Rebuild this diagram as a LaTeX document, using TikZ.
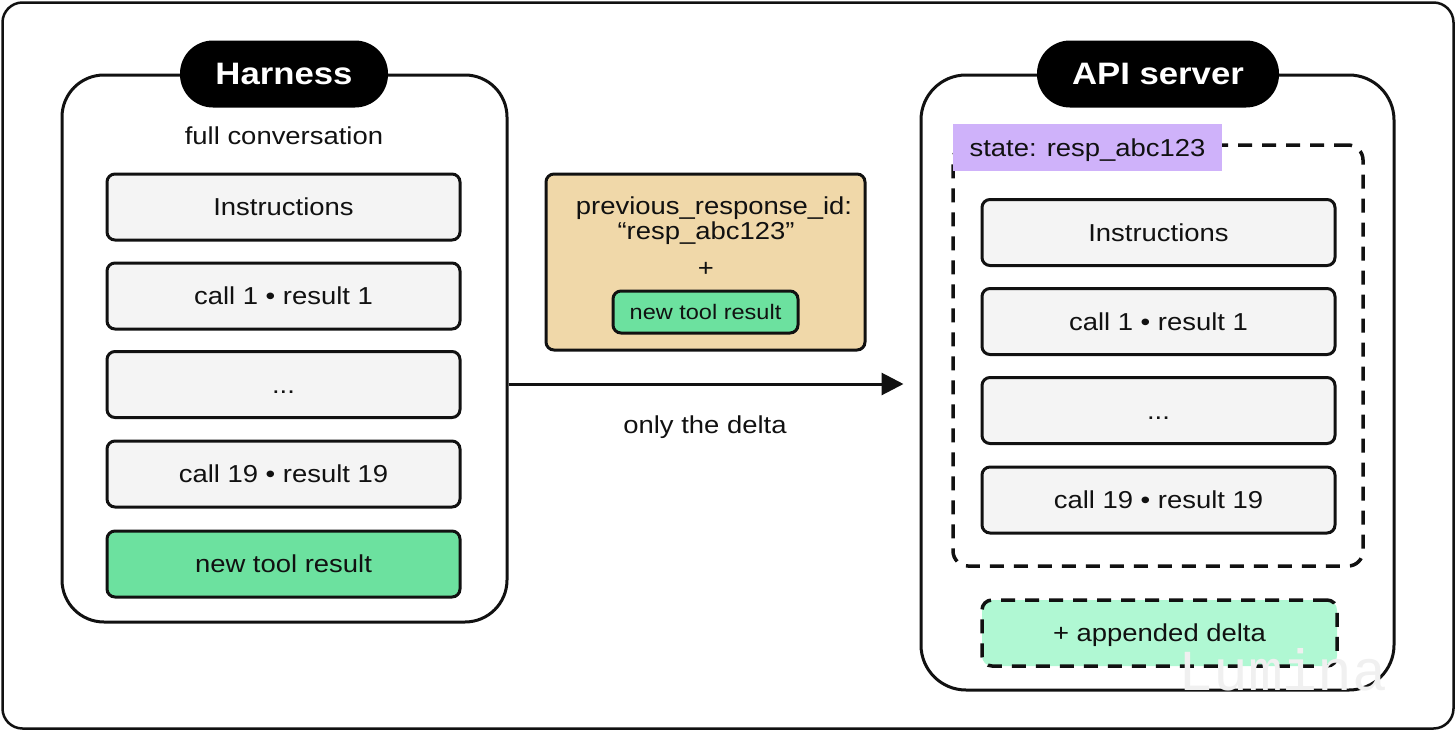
\documentclass[tikz,border=0pt]{standalone}
\usepackage{fontspec}
\setmainfont{Liberation Sans}[FakeStretch=1.12]
\newfontfamily\wmfont{Liberation Mono}
\usetikzlibrary{arrows.meta}
\definecolor{itemgray}{HTML}{F4F4F4}
\definecolor{newgreen}{HTML}{6CE19F}
\definecolor{deltayellow}{HTML}{F0D8A9}
\definecolor{statepurple}{HTML}{CFB2FA}
\definecolor{appgreen}{HTML}{B0F8D3}
\definecolor{ink}{HTML}{111111}
\begin{document}
\begin{tikzpicture}[x=1pt,y=-1pt,
  every node/.style={text=ink, inner sep=0pt},
  tb/.style={text height=17.5pt, text depth=0.5pt},
  frame/.style={draw=ink, line width=2.5pt, rounded corners=20pt},
  panel/.style={draw=ink, line width=3pt, rounded corners=42pt},
  pill/.style={fill=black, rounded corners=33pt, minimum height=67pt, text=white, font=\fontsize{31}{36}\selectfont\bfseries},
  item/.style={draw=ink, line width=3pt, rounded corners=8pt, fill=itemgray, minimum width=353pt, minimum height=66pt, font=\fontsize{24.5}{28}\selectfont, tb},
  greenitem/.style={item, fill=newgreen},
  lbl/.style={font=\fontsize{24.5}{28}\selectfont, tb},
  dashbox/.style={draw=ink, line width=3.5pt, dash pattern=on 14pt off 10pt, rounded corners=15pt},
]
\useasboundingbox (0,0) rectangle (1456,731);

% outer frame
\node[frame, minimum width=1451pt, minimum height=726pt] (frame) at (728,365.5) {};

% Harness panel
\node[panel, minimum width=445pt, minimum height=547pt] (harness) at (284.5,348.5) {};
\node[pill, minimum width=208pt] (hpill) at (284,74) {Harness};
\node[lbl] (fullconv) at (284,136) {full conversation};
\node[item] (l1) at (283.5,207) {Instructions};
\node[item] (l2) at (283.5,296) {call 1 \textbullet{} result 1};
\node[item] (l3) at (283.5,384.5) {...};
\node[item] (l4) at (283.5,474) {call 19 \textbullet{} result 19};
\node[greenitem] (l5) at (283.5,564) {new tool result};

% API server panel
\node[panel, minimum width=473pt, minimum height=615pt, rounded corners=45pt] (api) at (1157.5,382.5) {};
\node[pill, minimum width=242pt] (apill) at (1158,74) {API server};
\node[dashbox, minimum width=410pt, minimum height=421pt] (state) at (1158,355.5) {};
\node[fill=statepurple, minimum width=269pt, minimum height=47pt, font=\fontsize{24.5}{28}\selectfont, tb] (statelbl) at (1087.5,147.5) {state: resp\_abc123};
\node[item] (r1) at (1158.5,232.5) {Instructions};
\node[item] (r2) at (1158.5,321.5) {call 1 \textbullet{} result 1};
\node[item] (r3) at (1158.5,410.5) {...};
\node[item] (r4) at (1158.5,500) {call 19 \textbullet{} result 19};
\node[dashbox, fill=appgreen, rounded corners=10pt, minimum width=355pt, minimum height=66pt, font=\fontsize{24.5}{28}\selectfont, tb] (app) at (1159.5,633) {+ appended delta};

% delta payload
\node[draw=ink, line width=3pt, rounded corners=8pt, fill=deltayellow, minimum width=319pt, minimum height=176pt] (payload) at (705.5,262) {};
\node[lbl] (pid1) at (714,206) {previous\_response\_id:};
\node[lbl] (pid2) at (706,231) {“resp\_abc123”};
\node[lbl] (plus) at (706,268) {+};
\node[draw=ink, line width=3pt, rounded corners=8pt, fill=newgreen, minimum width=185pt, minimum height=42pt, font=\fontsize{21}{24}\selectfont, text height=15pt, text depth=0.5pt] (pnew) at (705.5,312) {new tool result};

% arrow
\coordinate (ay) at (0,384);
\draw[draw=ink, line width=3pt, -{Triangle[length=22pt,width=22pt]}, shorten >=16pt] (harness.east |- ay) -- (api.west |- ay);
\node[lbl] (onlydelta) at (705,425) {only the delta};

% watermark
\node[text=black!6, font=\wmfont\fontsize{58}{58}\selectfont] (wm) at (1283,670) {Lumina};
\end{tikzpicture}
\end{document}
